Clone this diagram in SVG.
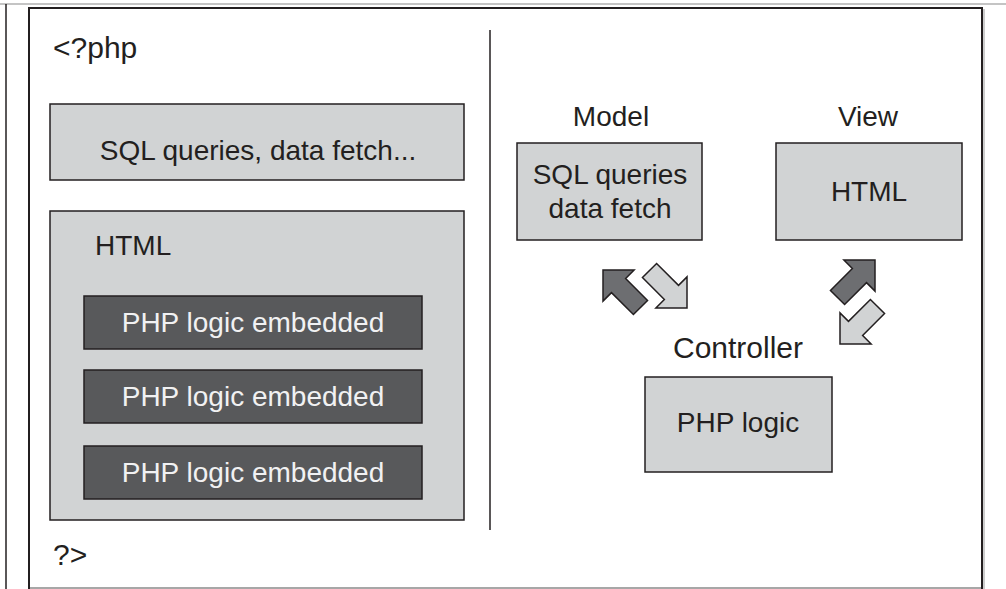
<svg xmlns="http://www.w3.org/2000/svg" width="1006" height="589" viewBox="0 0 1006 589">
<style>
text{font-family:"Liberation Sans",Arial,sans-serif;font-size:28px;fill:#231f20}
.big{font-size:30px}
.box{fill:#d1d3d4;stroke:#231f20;stroke-width:1.5}
.dark{fill:#58595b;stroke:#231f20;stroke-width:1.5}
.lt{fill:#f1f1f2}
.mid{text-anchor:middle}
.ad{fill:#6d6e71;stroke:#231f20;stroke-width:1.5;stroke-linejoin:miter}
.al{fill:#d1d3d4;stroke:#231f20;stroke-width:1.5;stroke-linejoin:miter}
</style>
<defs>
<path id="arr" d="M0,0 L-22,-22 L-22,-10 L-53,-10 L-53,10 L-22,10 L-22,22 Z"/>
</defs>
<rect width="1006" height="589" fill="#fff"/>
<g id="frame">
<line x1="0" y1="4" x2="1006" y2="4" stroke="#b0b0b0" stroke-width="1.5"/>
<line x1="6" y1="4" x2="6" y2="589" stroke="#231f20" stroke-width="1.5"/>
<line x1="29" y1="588" x2="982" y2="588" stroke="#8a8a8a" stroke-width="1.5"/>
<path d="M29,589 L29,8 L982,8 L982,589" fill="none" stroke="#231f20" stroke-width="2"/>
<line x1="984" y1="9" x2="984" y2="589" stroke="#9a9a9a" stroke-width="1"/>
<line x1="490" y1="30" x2="490" y2="530" stroke="#231f20" stroke-width="1.5"/>
</g>
<g id="php-open"><text class="big" x="53" y="58">&lt;?php</text></g>
<g id="sql-box">
<rect class="box" x="50" y="104" width="414" height="76"/>
<text class="mid" x="258" y="160" font-size="29">SQL queries, data fetch...</text>
</g>
<g id="html-box">
<rect class="box" x="50" y="211" width="414" height="309"/>
<text x="95" y="255">HTML</text>
</g>
<g id="php-embed-1">
<rect class="dark" x="84" y="296" width="338" height="53"/>
<text class="mid lt" x="253" y="332">PHP logic embedded</text>
</g>
<g id="php-embed-2">
<rect class="dark" x="84" y="370" width="338" height="53"/>
<text class="mid lt" x="253" y="406">PHP logic embedded</text>
</g>
<g id="php-embed-3">
<rect class="dark" x="84" y="446" width="338" height="53"/>
<text class="mid lt" x="253" y="482">PHP logic embedded</text>
</g>
<g id="php-close"><text class="big" x="53" y="565">?&gt;</text></g>
<g id="model">
<text class="mid" x="611" y="126">Model</text>
<rect class="box" x="517" y="143" width="185" height="97"/>
<text class="mid" x="610" y="184">SQL queries</text>
<text class="mid" x="610" y="218">data fetch</text>
</g>
<g id="view">
<text class="mid" x="868" y="126">View</text>
<rect class="box" x="776" y="143" width="186" height="97"/>
<text class="mid" x="869" y="201">HTML</text>
</g>
<g id="controller">
<text class="mid big" x="738" y="358">Controller</text>
<rect class="box" x="645" y="377" width="187" height="95"/>
<text class="mid" x="738" y="432" font-size="29">PHP logic</text>
</g>
<g id="connectors">
<use href="#arr" class="ad" transform="translate(603,270) rotate(225)"/>
<use href="#arr" class="al" transform="translate(687,308) rotate(45)"/>
<use href="#arr" class="ad" transform="translate(875,260) rotate(-45)"/>
<use href="#arr" class="al" transform="translate(840,344) rotate(135)"/>
</g>
</svg>
